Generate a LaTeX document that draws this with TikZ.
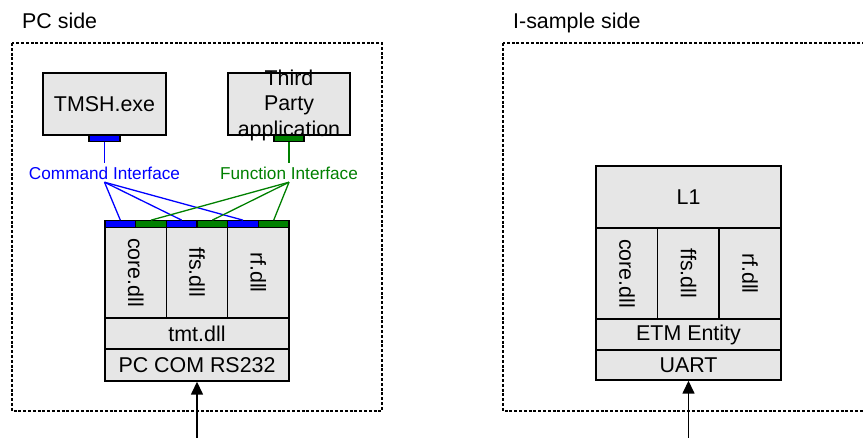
\documentclass[tikz,border=0pt]{standalone}
\usepackage{fontspec}
\setmainfont{Liberation Sans}
\usetikzlibrary{arrows.meta}
\definecolor{boxgray}{HTML}{E6E6E6}
\definecolor{ifgreen}{HTML}{008000}

\begin{document}
\begin{tikzpicture}[x=1pt, y=-1pt,
  side/.style={draw, line width=2.4pt, dash pattern=on 3pt off 1.8pt},
  layer/.style={draw, line width=1.4pt, fill=boxgray, inner sep=0pt, font=\fontsize{21.4}{25}\selectfont},
  port/.style={draw, line width=1.2pt, inner sep=0pt, minimum height=6.5pt},
  cmdline/.style={blue, line width=1.3pt},
  funline/.style={ifgreen, line width=1.3pt},
  iflabel/.style={font=\fontsize{17.2}{20}\selectfont, text height=12.4pt, text depth=0pt, inner xsep=0pt, inner ysep=3pt},
  title/.style={font=\fontsize{21.4}{25}\selectfont, anchor=base west, inner sep=0pt},
  rs/.style={-{Triangle[width=12pt,length=13pt]}, line width=1.5pt}]
  \clip (0,0) rectangle (863,437);

  % the two sides
  \draw[side] (12,43) rectangle (382,411);
  \draw[side] (503,43) rectangle (880,411);
  \node[title] (pctitle) at (22,28) {PC side};
  \node[title] (istitle) at (513,28) {I-sample side};

  % applications
  \node[layer, minimum width=123pt, minimum height=62pt] (tmsh) at (104.5,104) {TMSH.exe};
  \node[layer, minimum width=122pt, minimum height=62pt] (third) at (289,104) {};
  \node[align=center, inner sep=0pt, font=\fontsize{21.4}{25.5}\selectfont] (thirdtxt) at (289,105) {Third\\Party\\application};
  \node[port, fill=blue, minimum width=31pt] (tport) at (104.5,138.5) {};
  \node[port, fill=ifgreen, minimum width=30pt] (fport) at (289,138.5) {};

  \node[iflabel, text=blue] (cmd) at (104.5,172.8) {Command Interface};
  \node[iflabel, text=ifgreen] (fun) at (289,172.8) {Function Interface};

  % PC side dll stack
  \node[layer, rotate=-90, minimum width=91pt, minimum height=61.3pt] (core) at (135.7,272.5) {core.dll};
  \node[layer, rotate=-90, minimum width=91pt, minimum height=61.3pt] (ffs) at (197,272.5) {ffs.dll};
  \node[layer, rotate=-90, minimum width=91pt, minimum height=61.3pt] (rf) at (258.3,272.5) {rf.dll};
  \node[layer, minimum width=184pt, minimum height=31pt] (tmt) at (197,333.5) {tmt.dll};
  \node[layer, minimum width=184pt, minimum height=32pt] (pccom) at (197,365) {PC COM RS232};
  \foreach \i/\c in {1/blue,2/ifgreen,3/blue,4/ifgreen,5/blue,6/ifgreen}
    \node[port, fill=\c, minimum width=30.67pt] (dp\i) at ({105+30.67*(\i-0.5)},224) {};

  \draw[cmdline] (tport.south) -- (cmd.north);
  \draw[funline] (fport.south) -- (fun.north);
  \foreach \i in {1,3,5}
    \draw[cmdline] (cmd.south) -- (dp\i.north);
  \foreach \i in {2,4,6}
    \draw[funline] (fun.south) -- (dp\i.north);

  % I-sample side stack
  \node[layer, minimum width=185pt, minimum height=62pt] (lone) at (688.5,197) {L1};
  \node[layer, rotate=-90, minimum width=91pt, minimum height=61.7pt] (ecore) at (627,273.5) {core.dll};
  \node[layer, rotate=-90, minimum width=91pt, minimum height=61.7pt] (effs) at (688.5,273.5) {ffs.dll};
  \node[layer, rotate=-90, minimum width=91pt, minimum height=61.7pt] (erf) at (750,273.5) {rf.dll};
  \node[layer, minimum width=185pt, minimum height=31pt] (etm) at (688.5,334.5) {ETM Entity};
  \node[layer, minimum width=185pt, minimum height=30pt] (uart) at (688.5,365) {UART};

  % serial links
  \coordinate (pcin) at (197,440);
  \coordinate (isin) at (688.5,440);
  \draw[rs] (pcin) -- (pccom.south);
  \draw[rs] (isin) -- (uart.south);
\end{tikzpicture}
\end{document}
